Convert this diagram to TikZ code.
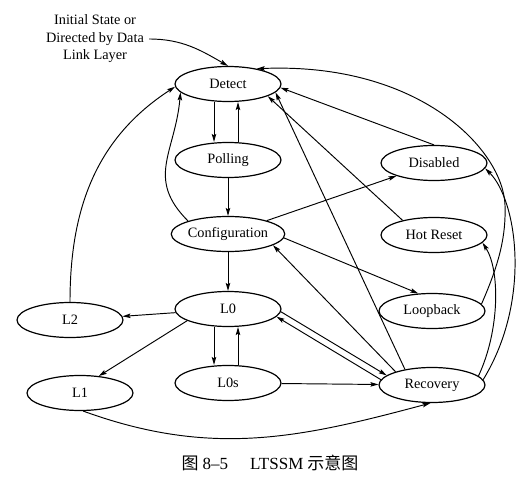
\documentclass[tikz,border=0pt]{standalone}
\usepackage{fontspec}
\setmainfont{Liberation Serif}
\newfontfamily\cjkfont{Noto Sans CJK SC}
\usetikzlibrary{shapes.geometric,arrows.meta}
\begin{document}
\begin{tikzpicture}[x=1pt,y=1pt,
  state/.style={ellipse,draw,line width=1.2pt,minimum width=106pt,minimum height=35pt,inner sep=0pt,font=\fontsize{14.3}{16}\selectfont},
  conn/.style={line width=0.95pt,-{Stealth[length=8pt,width=4.5pt,inset=1.5pt]}},
  lbl/.style={font=\fontsize{14.3}{17.5}\selectfont,align=center,inner sep=2pt}]
\useasboundingbox (0,0) rectangle (521,496);
% states
\node[state] (Detect)   at (228,412) {Detect};
\node[state] (Polling)  at (228,336) {Polling};
\node[state] (Config)   at (228,262) {Configuration};
\node[state] (L0)       at (228,187) {L0};
\node[state] (L0s)      at (228,113) {L0s};
\node[state] (L2)       at (70,176)  {L2};
\node[state] (L1)       at (80,103)  {L1};
\node[state] (Disabled) at (434,333) {Disabled};
\node[state] (HotReset) at (434,261) {Hot Reset};
\node[state] (Loopback) at (432,185) {Loopback};
\node[state] (Recovery) at (432,111) {Recovery};
% texts
\node[lbl] (init) at (95,457) {Initial State or\\Directed by Data\\Link Layer};
\node[font=\fontsize{17}{19}\selectfont] (caption) at (270,33) {{\cjkfont 图}\hspace{4pt}8--5\hspace{22pt}LTSSM\hspace{4pt}{\cjkfont 示意图}};
% connectors
\draw[conn] ([xshift=3pt]init.east) to[out=0,in=150] (Detect.north);
\draw[conn] ([xshift=-14pt]Detect.south) -- ([xshift=-14pt]Polling.north);
\draw[conn] ([xshift=10pt]Polling.north) -- ([xshift=10pt]Detect.south);
\draw[conn] (Polling) -- (Config);
\draw[conn] (Config) -- (L0);
\draw[conn] ([xshift=-14pt]L0.south) -- ([xshift=-14pt]L0s.north);
\draw[conn] ([xshift=10pt]L0s.north) -- ([xshift=10pt]L0.south);
\draw[conn] (Config.162) to[out=135,in=265,looseness=1.2] (Detect.190);
\draw[conn] (L2.north) to[out=90,in=213] (Detect.183);
\draw[conn] (Config) -- (Disabled);
\draw[conn] (Config.-4) -- (Loopback.128);
\draw[conn] (Recovery.160) -- (Config.-14);
\draw[conn] (Recovery.150) -- (Detect.-10);
\draw[conn] (HotReset.155) -- (Detect.-17);
\draw[conn] (Disabled.north) -- (Detect.-4);
\draw[conn] (Loopback.8) .. controls (500,234) and (506,261) .. (505,291) .. controls (503,346) and (420,434) .. (Detect.28);
\draw[conn] (Recovery.6) .. controls (532,196) and (517,296) .. (Disabled.-6);
\draw[conn] (Recovery.11) .. controls (500,166) and (500,226) .. (HotReset.-9);
\draw[conn] (L0) -- (L2);
\draw[conn] (L0.196) -- (L1.42);
\draw[conn] (L0.-3) -- (Recovery.168);
\draw[conn] (Recovery.174) -- (L0.-9);
\draw[conn] (L0s) -- (Recovery);
\draw[conn] (L1.-80) to[out=-20,in=195] (Recovery.-95);
\end{tikzpicture}
\end{document}
